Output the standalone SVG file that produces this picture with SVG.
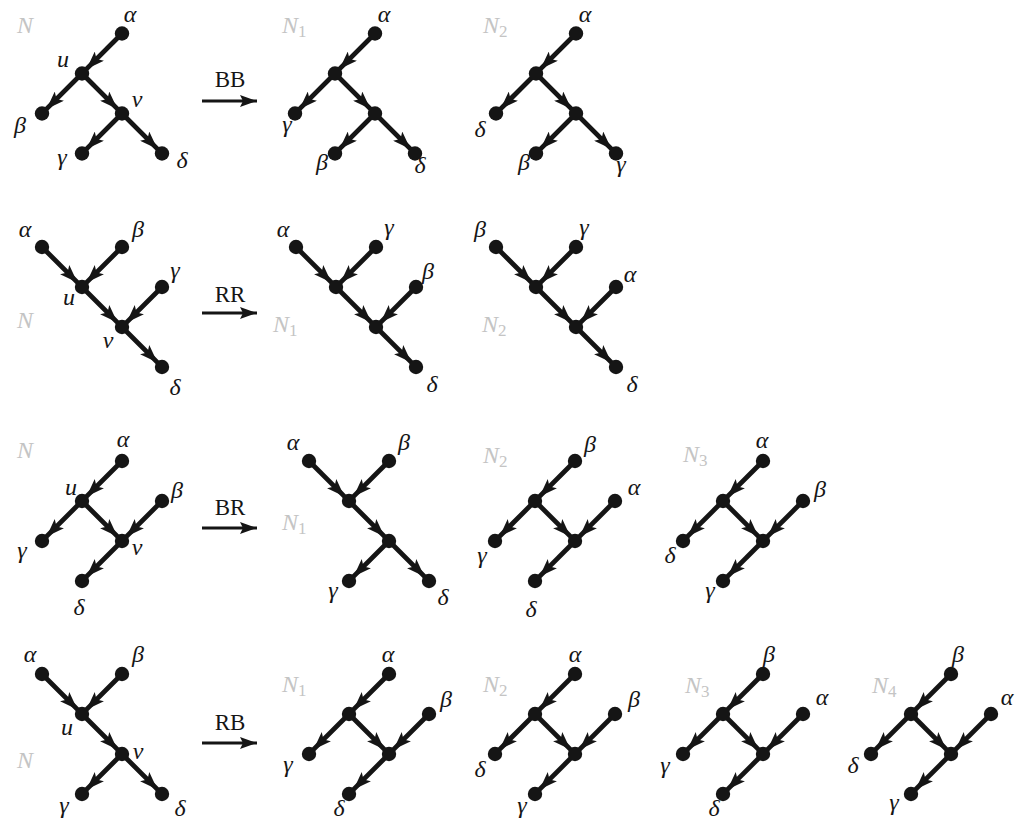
<svg xmlns="http://www.w3.org/2000/svg" width="1021" height="822" viewBox="0 0 1021 822">
<defs>
<marker id="ah" viewBox="0 0 18 13" markerUnits="userSpaceOnUse" markerWidth="18" markerHeight="13" refX="18" refY="6.5" orient="auto"><path d="M0,0 L18,6.5 L0,13 L4,6.5 Z" fill="#151515"/></marker>
<marker id="big" viewBox="0 0 17 12" markerUnits="userSpaceOnUse" markerWidth="17" markerHeight="12" refX="17" refY="6" orient="auto"><path d="M0,0 L17,6 L0,12 L3,6 Z" fill="#151515"/></marker>
</defs>
<style>
.e{fill:none;stroke:#151515;stroke-width:4.8;marker-mid:url(#ah)}
.n circle{fill:#151515}
.n text{font-family:"Liberation Serif","DejaVu Serif",serif;font-style:italic;font-size:24px;fill:#151515;text-anchor:middle}
.nl{font-family:"Liberation Serif","DejaVu Serif",serif;font-style:italic;font-size:24px;fill:#c4c4c4}
.sub{font-style:normal;font-size:17px}
.op{font-family:"Liberation Serif","DejaVu Serif",serif;font-size:23px;fill:#151515;text-anchor:middle}
.arr{stroke:#151515;stroke-width:3.2;marker-end:url(#big)}
</style>
<rect width="1021" height="822" fill="#ffffff"/>

<!-- Row 1 -->
<g id="r1-N">
<text class="nl" x="17" y="33">N</text>
<g class="edges">
<path class="e" d="M122,33.5L86.6,68.9L82,73.5"/>
<path class="e" d="M82,73.5L46.6,108.9L42,113.5"/>
<path class="e" d="M82,73.5L117.4,108.9L122,113.5"/>
<path class="e" d="M122,113.5L86.6,148.9L82,153.5"/>
<path class="e" d="M122,113.5L157.4,148.9L162,153.5"/>
</g>
<g id="r1-N-alpha" class="n"><circle cx="122" cy="33.5" r="7.2"/><text x="130" y="22">α</text></g>
<g id="r1-N-u" class="n"><circle cx="82" cy="73.5" r="7.2"/><text x="63" y="67">u</text></g>
<g id="r1-N-beta" class="n"><circle cx="42" cy="113.5" r="7.2"/><text x="20" y="133">β</text></g>
<g id="r1-N-v" class="n"><circle cx="122" cy="113.5" r="7.2"/><text x="137" y="107">v</text></g>
<g id="r1-N-gamma" class="n"><circle cx="82" cy="153.5" r="7.2"/><text x="62" y="165">γ</text></g>
<g id="r1-N-delta" class="n"><circle cx="162" cy="153.5" r="7.2"/><text x="182" y="168">δ</text></g>
</g>
<g id="r1-op"><text class="op" x="230" y="87">BB</text><line class="arr" x1="202" y1="101" x2="257" y2="101"/></g>
<g id="r1-N1">
<text class="nl" x="282" y="33">N<tspan class="sub" dy="4">1</tspan></text>
<g class="edges">
<path class="e" d="M375,33.5L339.6,68.9L335,73.5"/>
<path class="e" d="M335,73.5L299.6,108.9L295,113.5"/>
<path class="e" d="M335,73.5L370.4,108.9L375,113.5"/>
<path class="e" d="M375,113.5L339.6,148.9L335,153.5"/>
<path class="e" d="M375,113.5L410.4,148.9L415,153.5"/>
</g>
<g id="r1-N1-alpha" class="n"><circle cx="375" cy="33.5" r="7.2"/><text x="384" y="22">α</text></g>
<g id="r1-N1-u" class="n"><circle cx="335" cy="73.5" r="7.2"/></g>
<g id="r1-N1-gamma" class="n"><circle cx="295" cy="113.5" r="7.2"/><text x="287" y="132">γ</text></g>
<g id="r1-N1-v" class="n"><circle cx="375" cy="113.5" r="7.2"/></g>
<g id="r1-N1-beta" class="n"><circle cx="335" cy="153.5" r="7.2"/><text x="322" y="170">β</text></g>
<g id="r1-N1-delta" class="n"><circle cx="415" cy="153.5" r="7.2"/><text x="420" y="173">δ</text></g>
</g>
<g id="r1-N2">
<text class="nl" x="483" y="33">N<tspan class="sub" dy="4">2</tspan></text>
<g class="edges">
<path class="e" d="M576,33.5L540.6,68.9L536,73.5"/>
<path class="e" d="M536,73.5L500.6,108.9L496,113.5"/>
<path class="e" d="M536,73.5L571.4,108.9L576,113.5"/>
<path class="e" d="M576,113.5L540.6,148.9L536,153.5"/>
<path class="e" d="M576,113.5L611.4,148.9L616,153.5"/>
</g>
<g id="r1-N2-alpha" class="n"><circle cx="576" cy="33.5" r="7.2"/><text x="585" y="22">α</text></g>
<g id="r1-N2-u" class="n"><circle cx="536" cy="73.5" r="7.2"/></g>
<g id="r1-N2-delta" class="n"><circle cx="496" cy="113.5" r="7.2"/><text x="480" y="137">δ</text></g>
<g id="r1-N2-v" class="n"><circle cx="576" cy="113.5" r="7.2"/></g>
<g id="r1-N2-beta" class="n"><circle cx="536" cy="153.5" r="7.2"/><text x="524" y="170">β</text></g>
<g id="r1-N2-gamma" class="n"><circle cx="616" cy="153.5" r="7.2"/><text x="621" y="172">γ</text></g>
</g>

<!-- Row 2 -->
<g id="r2-N">
<text class="nl" x="17" y="328">N</text>
<g class="edges">
<path class="e" d="M42,247L77.4,282.4L82,287"/>
<path class="e" d="M122,247L86.6,282.4L82,287"/>
<path class="e" d="M82,287L117.4,322.4L122,327"/>
<path class="e" d="M162,287L126.6,322.4L122,327"/>
<path class="e" d="M122,327L157.4,362.4L162,367"/>
</g>
<g id="r2-N-alpha" class="n"><circle cx="42" cy="247" r="7.2"/><text x="25" y="237">α</text></g>
<g id="r2-N-beta" class="n"><circle cx="122" cy="247" r="7.2"/><text x="138" y="237">β</text></g>
<g id="r2-N-u" class="n"><circle cx="82" cy="287" r="7.2"/><text x="69" y="305">u</text></g>
<g id="r2-N-gamma" class="n"><circle cx="162" cy="287" r="7.2"/><text x="175" y="278">γ</text></g>
<g id="r2-N-v" class="n"><circle cx="122" cy="327" r="7.2"/><text x="108" y="348">v</text></g>
<g id="r2-N-delta" class="n"><circle cx="162" cy="367" r="7.2"/><text x="175" y="395">δ</text></g>
</g>
<g id="r2-op"><text class="op" x="230" y="302">RR</text><line class="arr" x1="202" y1="313" x2="257" y2="313"/></g>
<g id="r2-N1">
<text class="nl" x="273" y="332">N<tspan class="sub" dy="4">1</tspan></text>
<g class="edges">
<path class="e" d="M296,247L331.4,282.4L336,287"/>
<path class="e" d="M376,247L340.6,282.4L336,287"/>
<path class="e" d="M336,287L371.4,322.4L376,327"/>
<path class="e" d="M416,287L380.6,322.4L376,327"/>
<path class="e" d="M376,327L411.4,362.4L416,367"/>
</g>
<g id="r2-N1-alpha" class="n"><circle cx="296" cy="247" r="7.2"/><text x="283" y="237">α</text></g>
<g id="r2-N1-gamma" class="n"><circle cx="376" cy="247" r="7.2"/><text x="389" y="235">γ</text></g>
<g id="r2-N1-u" class="n"><circle cx="336" cy="287" r="7.2"/></g>
<g id="r2-N1-beta" class="n"><circle cx="416" cy="287" r="7.2"/><text x="428" y="279">β</text></g>
<g id="r2-N1-v" class="n"><circle cx="376" cy="327" r="7.2"/></g>
<g id="r2-N1-delta" class="n"><circle cx="416" cy="367" r="7.2"/><text x="432" y="392">δ</text></g>
</g>
<g id="r2-N2">
<text class="nl" x="482" y="332">N<tspan class="sub" dy="4">2</tspan></text>
<g class="edges">
<path class="e" d="M496,247L531.4,282.4L536,287"/>
<path class="e" d="M576,247L540.6,282.4L536,287"/>
<path class="e" d="M536,287L571.4,322.4L576,327"/>
<path class="e" d="M616,287L580.6,322.4L576,327"/>
<path class="e" d="M576,327L611.4,362.4L616,367"/>
</g>
<g id="r2-N2-beta" class="n"><circle cx="496" cy="247" r="7.2"/><text x="480" y="237">β</text></g>
<g id="r2-N2-gamma" class="n"><circle cx="576" cy="247" r="7.2"/><text x="584" y="235">γ</text></g>
<g id="r2-N2-u" class="n"><circle cx="536" cy="287" r="7.2"/></g>
<g id="r2-N2-alpha" class="n"><circle cx="616" cy="287" r="7.2"/><text x="630" y="282">α</text></g>
<g id="r2-N2-v" class="n"><circle cx="576" cy="327" r="7.2"/></g>
<g id="r2-N2-delta" class="n"><circle cx="616" cy="367" r="7.2"/><text x="632" y="392">δ</text></g>
</g>

<!-- Row 3 -->
<g id="r3-N">
<text class="nl" x="17" y="458">N</text>
<g class="edges">
<path class="e" d="M122,461L86.6,496.4L82,501"/>
<path class="e" d="M82,501L46.6,536.4L42,541"/>
<path class="e" d="M82,501L117.4,536.4L122,541"/>
<path class="e" d="M162,501L126.6,536.4L122,541"/>
<path class="e" d="M122,541L86.6,576.4L82,581"/>
</g>
<g id="r3-N-alpha" class="n"><circle cx="122" cy="461" r="7.2"/><text x="123" y="447">α</text></g>
<g id="r3-N-u" class="n"><circle cx="82" cy="501" r="7.2"/><text x="71" y="495">u</text></g>
<g id="r3-N-beta" class="n"><circle cx="162" cy="501" r="7.2"/><text x="177" y="498">β</text></g>
<g id="r3-N-gamma" class="n"><circle cx="42" cy="541" r="7.2"/><text x="22" y="558">γ</text></g>
<g id="r3-N-v" class="n"><circle cx="122" cy="541" r="7.2"/><text x="137" y="555">v</text></g>
<g id="r3-N-delta" class="n"><circle cx="82" cy="581" r="7.2"/><text x="79" y="615">δ</text></g>
</g>
<g id="r3-op"><text class="op" x="230" y="515">BR</text><line class="arr" x1="202" y1="528" x2="257" y2="528"/></g>
<g id="r3-N1">
<text class="nl" x="282" y="530">N<tspan class="sub" dy="4">1</tspan></text>
<g class="edges">
<path class="e" d="M309,461L344.4,496.4L349,501"/>
<path class="e" d="M389,461L353.6,496.4L349,501"/>
<path class="e" d="M349,501L384.4,536.4L389,541"/>
<path class="e" d="M389,541L353.6,576.4L349,581"/>
<path class="e" d="M389,541L424.4,576.4L429,581"/>
</g>
<g id="r3-N1-alpha" class="n"><circle cx="309" cy="461" r="7.2"/><text x="293" y="450">α</text></g>
<g id="r3-N1-beta" class="n"><circle cx="389" cy="461" r="7.2"/><text x="404" y="450">β</text></g>
<g id="r3-N1-u" class="n"><circle cx="349" cy="501" r="7.2"/></g>
<g id="r3-N1-v" class="n"><circle cx="389" cy="541" r="7.2"/></g>
<g id="r3-N1-gamma" class="n"><circle cx="349" cy="581" r="7.2"/><text x="333" y="598">γ</text></g>
<g id="r3-N1-delta" class="n"><circle cx="429" cy="581" r="7.2"/><text x="443" y="605">δ</text></g>
</g>
<g id="r3-N2">
<text class="nl" x="483" y="463">N<tspan class="sub" dy="4">2</tspan></text>
<g class="edges">
<path class="e" d="M575,461L539.6,496.4L535,501"/>
<path class="e" d="M535,501L499.6,536.4L495,541"/>
<path class="e" d="M535,501L570.4,536.4L575,541"/>
<path class="e" d="M615,501L579.6,536.4L575,541"/>
<path class="e" d="M575,541L539.6,576.4L535,581"/>
</g>
<g id="r3-N2-beta" class="n"><circle cx="575" cy="461" r="7.2"/><text x="590" y="452">β</text></g>
<g id="r3-N2-u" class="n"><circle cx="535" cy="501" r="7.2"/></g>
<g id="r3-N2-alpha" class="n"><circle cx="615" cy="501" r="7.2"/><text x="634" y="495">α</text></g>
<g id="r3-N2-gamma" class="n"><circle cx="495" cy="541" r="7.2"/><text x="482" y="563">γ</text></g>
<g id="r3-N2-v" class="n"><circle cx="575" cy="541" r="7.2"/></g>
<g id="r3-N2-delta" class="n"><circle cx="535" cy="581" r="7.2"/><text x="531" y="617">δ</text></g>
</g>
<g id="r3-N3">
<text class="nl" x="683" y="462">N<tspan class="sub" dy="4">3</tspan></text>
<g class="edges">
<path class="e" d="M763,461L727.6,496.4L723,501"/>
<path class="e" d="M723,501L687.6,536.4L683,541"/>
<path class="e" d="M723,501L758.4,536.4L763,541"/>
<path class="e" d="M803,501L767.6,536.4L763,541"/>
<path class="e" d="M763,541L727.6,576.4L723,581"/>
</g>
<g id="r3-N3-alpha" class="n"><circle cx="763" cy="461" r="7.2"/><text x="762" y="448">α</text></g>
<g id="r3-N3-u" class="n"><circle cx="723" cy="501" r="7.2"/></g>
<g id="r3-N3-beta" class="n"><circle cx="803" cy="501" r="7.2"/><text x="820" y="497">β</text></g>
<g id="r3-N3-delta" class="n"><circle cx="683" cy="541" r="7.2"/><text x="670" y="563">δ</text></g>
<g id="r3-N3-v" class="n"><circle cx="763" cy="541" r="7.2"/></g>
<g id="r3-N3-gamma" class="n"><circle cx="723" cy="581" r="7.2"/><text x="710" y="598">γ</text></g>
</g>

<!-- Row 4 -->
<g id="r4-N">
<text class="nl" x="17" y="768">N</text>
<g class="edges">
<path class="e" d="M42,674L77.4,709.4L82,714"/>
<path class="e" d="M122,674L86.6,709.4L82,714"/>
<path class="e" d="M82,714L117.4,749.4L122,754"/>
<path class="e" d="M122,754L86.6,789.4L82,794"/>
<path class="e" d="M122,754L157.4,789.4L162,794"/>
</g>
<g id="r4-N-alpha" class="n"><circle cx="42" cy="674" r="7.2"/><text x="30" y="662">α</text></g>
<g id="r4-N-beta" class="n"><circle cx="122" cy="674" r="7.2"/><text x="138" y="662">β</text></g>
<g id="r4-N-u" class="n"><circle cx="82" cy="714" r="7.2"/><text x="67" y="735">u</text></g>
<g id="r4-N-v" class="n"><circle cx="122" cy="754" r="7.2"/><text x="138" y="759">v</text></g>
<g id="r4-N-gamma" class="n"><circle cx="82" cy="794" r="7.2"/><text x="64" y="813">γ</text></g>
<g id="r4-N-delta" class="n"><circle cx="162" cy="794" r="7.2"/><text x="180" y="816">δ</text></g>
</g>
<g id="r4-op"><text class="op" x="230" y="730">RB</text><line class="arr" x1="202" y1="743" x2="257" y2="743"/></g>
<g id="r4-N1">
<text class="nl" x="282" y="692">N<tspan class="sub" dy="4">1</tspan></text>
<g class="edges">
<path class="e" d="M389,674L353.6,709.4L349,714"/>
<path class="e" d="M349,714L313.6,749.4L309,754"/>
<path class="e" d="M349,714L384.4,749.4L389,754"/>
<path class="e" d="M429,714L393.6,749.4L389,754"/>
<path class="e" d="M389,754L353.6,789.4L349,794"/>
</g>
<g id="r4-N1-alpha" class="n"><circle cx="389" cy="674" r="7.2"/><text x="388" y="662">α</text></g>
<g id="r4-N1-u" class="n"><circle cx="349" cy="714" r="7.2"/></g>
<g id="r4-N1-beta" class="n"><circle cx="429" cy="714" r="7.2"/><text x="446" y="707">β</text></g>
<g id="r4-N1-gamma" class="n"><circle cx="309" cy="754" r="7.2"/><text x="288" y="772">γ</text></g>
<g id="r4-N1-v" class="n"><circle cx="389" cy="754" r="7.2"/></g>
<g id="r4-N1-delta" class="n"><circle cx="349" cy="794" r="7.2"/><text x="339" y="816">δ</text></g>
</g>
<g id="r4-N2">
<text class="nl" x="483" y="692">N<tspan class="sub" dy="4">2</tspan></text>
<g class="edges">
<path class="e" d="M575,674L539.6,709.4L535,714"/>
<path class="e" d="M535,714L499.6,749.4L495,754"/>
<path class="e" d="M535,714L570.4,749.4L575,754"/>
<path class="e" d="M615,714L579.6,749.4L575,754"/>
<path class="e" d="M575,754L539.6,789.4L535,794"/>
</g>
<g id="r4-N2-alpha" class="n"><circle cx="575" cy="674" r="7.2"/><text x="575" y="662">α</text></g>
<g id="r4-N2-u" class="n"><circle cx="535" cy="714" r="7.2"/></g>
<g id="r4-N2-beta" class="n"><circle cx="615" cy="714" r="7.2"/><text x="634" y="707">β</text></g>
<g id="r4-N2-delta" class="n"><circle cx="495" cy="754" r="7.2"/><text x="480" y="777">δ</text></g>
<g id="r4-N2-v" class="n"><circle cx="575" cy="754" r="7.2"/></g>
<g id="r4-N2-gamma" class="n"><circle cx="535" cy="794" r="7.2"/><text x="522" y="813">γ</text></g>
</g>
<g id="r4-N3">
<text class="nl" x="685" y="693">N<tspan class="sub" dy="4">3</tspan></text>
<g class="edges">
<path class="e" d="M763,674L727.6,709.4L723,714"/>
<path class="e" d="M723,714L687.6,749.4L683,754"/>
<path class="e" d="M723,714L758.4,749.4L763,754"/>
<path class="e" d="M803,714L767.6,749.4L763,754"/>
<path class="e" d="M763,754L727.6,789.4L723,794"/>
</g>
<g id="r4-N3-beta" class="n"><circle cx="763" cy="674" r="7.2"/><text x="769" y="662">β</text></g>
<g id="r4-N3-u" class="n"><circle cx="723" cy="714" r="7.2"/></g>
<g id="r4-N3-alpha" class="n"><circle cx="803" cy="714" r="7.2"/><text x="822" y="705">α</text></g>
<g id="r4-N3-gamma" class="n"><circle cx="683" cy="754" r="7.2"/><text x="665" y="773">γ</text></g>
<g id="r4-N3-v" class="n"><circle cx="763" cy="754" r="7.2"/></g>
<g id="r4-N3-delta" class="n"><circle cx="723" cy="794" r="7.2"/><text x="714" y="816">δ</text></g>
</g>
<g id="r4-N4">
<text class="nl" x="872" y="693">N<tspan class="sub" dy="4">4</tspan></text>
<g class="edges">
<path class="e" d="M951,674L915.6,709.4L911,714"/>
<path class="e" d="M911,714L875.6,749.4L871,754"/>
<path class="e" d="M911,714L946.4,749.4L951,754"/>
<path class="e" d="M991,714L955.6,749.4L951,754"/>
<path class="e" d="M951,754L915.6,789.4L911,794"/>
</g>
<g id="r4-N4-beta" class="n"><circle cx="951" cy="674" r="7.2"/><text x="958" y="662">β</text></g>
<g id="r4-N4-u" class="n"><circle cx="911" cy="714" r="7.2"/></g>
<g id="r4-N4-alpha" class="n"><circle cx="991" cy="714" r="7.2"/><text x="1007" y="705">α</text></g>
<g id="r4-N4-delta" class="n"><circle cx="871" cy="754" r="7.2"/><text x="853" y="773">δ</text></g>
<g id="r4-N4-v" class="n"><circle cx="951" cy="754" r="7.2"/></g>
<g id="r4-N4-gamma" class="n"><circle cx="911" cy="794" r="7.2"/><text x="894" y="810">γ</text></g>
</g>
</svg>
